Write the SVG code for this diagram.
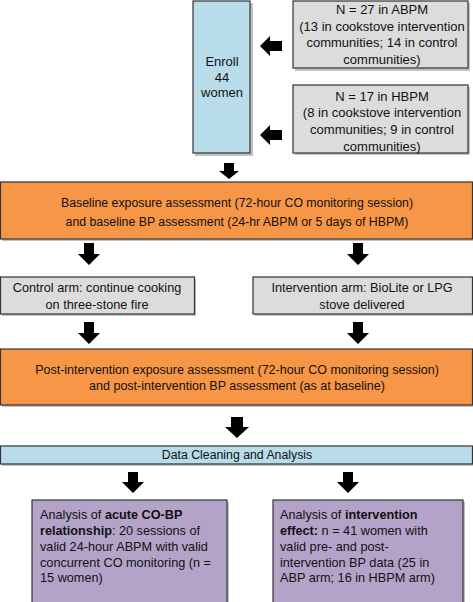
<svg xmlns="http://www.w3.org/2000/svg" width="473" height="602" viewBox="0 0 473 602">
<defs>
<style>
text{font-family:"Liberation Sans",Arial,sans-serif;font-size:12.7px;fill:#111}
.c{text-anchor:middle}
.b{font-weight:bold}
.t13{font-size:13px}
.t12{font-size:12.3px}
.t125{font-size:12.5px}
.box{stroke:#333;stroke-width:1.2}
.blue{fill:#b8dcea}
.gray{fill:#dcdcdc}
.orange{fill:#f79646}
.purple{fill:#b4a3c8}
.sh{fill:#9a9a9a;opacity:0.6}
.arr{fill:#000}
</style>
</defs>
<g id="enroll">
<rect class="sh" x="195" y="3" width="58" height="153"/>
<rect class="box blue" x="193" y="1" width="57" height="152"/>
<text class="c t13" x="222" y="66">Enroll</text>
<text class="c t13" x="222" y="82">44</text>
<text class="c t13" x="222" y="97">women</text>
</g>
<g id="abpm">
<rect class="sh" x="295" y="3" width="175" height="68"/>
<rect class="box gray" x="293" y="1" width="175" height="67"/>
<text class="c t13" x="382" y="14">N = 27 in ABPM</text>
<text class="c t13" x="382" y="31">(13 in cookstove intervention</text>
<text class="c t13" x="382" y="47">communities; 14 in control</text>
<text class="c t13" x="382" y="64">communities)</text>
</g>
<g id="hbpm">
<rect class="sh" x="295" y="87" width="175" height="68"/>
<rect class="box gray" x="293" y="85" width="175" height="68"/>
<text class="c t13" x="382" y="101">N = 17 in HBPM</text>
<text class="c t13" x="382" y="117">(8 in cookstove intervention</text>
<text class="c t13" x="382" y="134">communities; 9 in control</text>
<text class="c t13" x="382" y="151">communities)</text>
</g>
<g id="baseline">
<rect class="sh" x="2" y="184" width="471" height="57"/>
<rect class="box orange" x="0.5" y="182" width="472" height="57"/>
<text class="c t12" x="237" y="207">Baseline exposure assessment (72-hour CO monitoring session)</text>
<text class="c t12" x="237" y="226">and baseline BP assessment (24-hr ABPM or 5 days of HBPM)</text>
</g>
<g id="control">
<rect class="sh" x="2" y="279" width="194" height="37"/>
<rect class="box gray" x="0.5" y="277" width="194" height="37"/>
<text class="c" x="97" y="292">Control arm: continue cooking</text>
<text class="c" x="97" y="309">on three-stone fire</text>
</g>
<g id="intervention">
<rect class="sh" x="255" y="279" width="218" height="37"/>
<rect class="box gray" x="253" y="277" width="219.5" height="37"/>
<text class="c" x="362" y="292">Intervention arm: BioLite or LPG</text>
<text class="c" x="362" y="309">stove delivered</text>
</g>
<g id="post">
<rect class="sh" x="2" y="351" width="471" height="56"/>
<rect class="box orange" x="0.5" y="349" width="472" height="56"/>
<text class="c t125" x="237" y="374">Post-intervention exposure assessment (72-hour CO monitoring session)</text>
<text class="c t125" x="237" y="390">and post-intervention BP assessment (as at baseline)</text>
</g>
<g id="cleaning">
<rect class="sh" x="2" y="448" width="471" height="18"/>
<rect class="box blue" x="0.5" y="446" width="472" height="18"/>
<text class="c t12" x="237" y="459">Data Cleaning and Analysis</text>
</g>
<g id="acute">
<rect class="sh" x="34" y="502" width="195" height="102"/>
<rect class="box purple" x="32" y="500" width="195" height="104"/>
<text x="40" y="519">Analysis of <tspan class="b">acute CO-BP</tspan></text>
<text x="40" y="535"><tspan class="b">relationship</tspan>: 20 sessions of</text>
<text x="40" y="551">valid 24-hour ABPM with valid</text>
<text x="40" y="567">concurrent CO monitoring (n =</text>
<text x="40" y="582">15 women)</text>
</g>
<g id="effect">
<rect class="sh" x="275" y="502" width="190" height="102"/>
<rect class="box purple" x="273" y="500" width="190" height="104"/>
<text x="280" y="519">Analysis of <tspan class="b">intervention</tspan></text>
<text x="280" y="535"><tspan class="b">effect:</tspan> n = 41 women with</text>
<text x="280" y="551">valid pre- and post-</text>
<text x="280" y="567">intervention BP data (25 in</text>
<text x="280" y="582">ABP arm; 16 in HBPM arm)</text>
</g>
<g id="connectors">
<path class="arr" d="M260 46 L270 36 L270 41 L282 41 L282 51 L270 51 L270 56 Z"/>
<path class="arr" d="M260 135 L270 125 L270 130 L282 130 L282 140 L270 140 L270 145 Z"/>
<path class="arr" d="M224 163 L234 163 L234 171 L239 171 L229 179 L219 171 L224 171 Z"/>
<path class="arr" d="M84 243 L94 243 L94 254 L100 254 L89 265 L78 254 L84 254 Z"/>
<path class="arr" d="M353 243 L363 243 L363 254 L369 254 L358 265 L347 254 L353 254 Z"/>
<path class="arr" d="M84 322 L94 322 L94 333 L100 333 L89 344 L78 333 L84 333 Z"/>
<path class="arr" d="M353 322 L363 322 L363 333 L369 333 L358 344 L347 333 L353 333 Z"/>
<path class="arr" d="M231 417 L243 417 L243 427 L249 427 L237 438 L225 427 L231 427 Z"/>
<path class="arr" d="M128 472 L138 472 L138 482 L144 482 L133 493 L122 482 L128 482 Z"/>
<path class="arr" d="M343 472 L353 472 L353 482 L359 482 L348 493 L337 482 L343 482 Z"/>
</g>
</svg>
